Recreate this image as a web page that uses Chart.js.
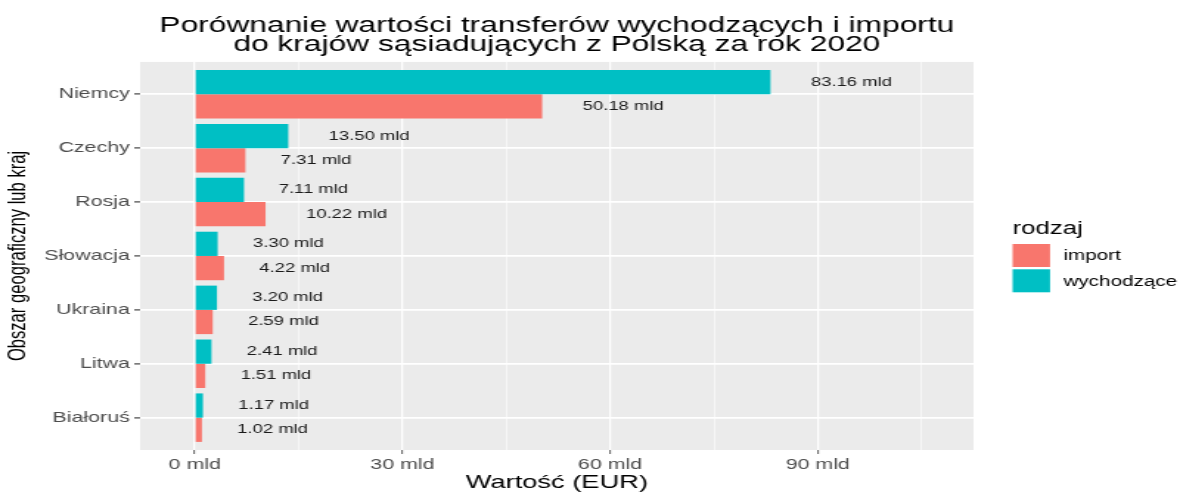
<!DOCTYPE html>
<html lang="pl">
<head>
<meta charset="utf-8">
<title>Porównanie wartości transferów wychodzących i importu</title>
<script src="https://cdn.jsdelivr.net/npm/chart.js@4.4.1/dist/chart.umd.min.js"></script>
<style>
  html, body { margin: 0; padding: 0; background: #ffffff; }
</style>
</head>
<body>
<!-- the reference picture is stretched sideways, so the chart is drawn narrow and shown wide -->
<canvas id="chart-transfers" width="800" height="492" style="width:1180px;height:492px;display:block"></canvas>
<script>
var categories = ["Niemcy", "Czechy", "Rosja", "Słowacja", "Ukraina", "Litwa", "Białoruś"];
var outgoing = [83.16, 13.50, 7.11, 3.30, 3.20, 2.41, 1.17];
var imports = [50.18, 7.31, 10.22, 4.22, 2.59, 1.51, 1.02];
var seriesNames = ["wychodzące", "import"];
var xMajorTicks = [0, 30, 60, 90];
var xMinorTicks = [15, 45, 75, 105];
var xLimits = [-7.9, 112.5];

(function () {
  "use strict";

  var FONT = "'Liberation Sans', Arial, sans-serif";
  var TEAL = "#00BFC4";
  var SALMON = "#F8766D";

  function isMajor(v) {
    return xMajorTicks.indexOf(v) !== -1;
  }

  var panelBackground = {
    id: "panelBackground",
    beforeDraw: function (chart) {
      var a = chart.chartArea;
      var ctx = chart.ctx;
      ctx.save();
      ctx.fillStyle = "#EBEBEB";
      ctx.fillRect(a.left, a.top, a.right - a.left, a.bottom - a.top);
      ctx.restore();
    },
  };

  // geom_text(hjust = -0.5) style labels next to each bar
  var valueLabels = {
    id: "valueLabels",
    afterDatasetsDraw: function (chart) {
      var ctx = chart.ctx;
      ctx.save();
      ctx.font = "12.5px " + FONT;
      ctx.fillStyle = "#1a1a1a";
      ctx.textAlign = "left";
      ctx.textBaseline = "middle";
      chart.data.datasets.forEach(function (ds, di) {
        chart.getDatasetMeta(di).data.forEach(function (bar, i) {
          var txt = ds.data[i].toFixed(2) + " mld";
          var w = ctx.measureText(txt).width;
          ctx.fillText(txt, bar.x + w * 0.5, bar.y);
        });
      });
      ctx.restore();
    },
  };

  var sideLegend = {
    id: "sideLegend",
    afterDraw: function (chart) {
      var ctx = chart.ctx;
      var x = 686.5;
      ctx.save();
      ctx.fillStyle = "#000";
      ctx.textAlign = "left";
      ctx.textBaseline = "middle";
      ctx.font = "17.5px " + FONT;
      ctx.fillText("rodzaj", x, 229);
      ctx.font = "14px " + FONT;
      var items = chart.data.datasets.slice().reverse();
      items.forEach(function (ds, i) {
        var top = 244 + i * 25.3;
        ctx.fillStyle = ds.backgroundColor;
        ctx.fillRect(x, top, 25.4, 23);
        ctx.fillStyle = "#000";
        ctx.fillText(ds.label, 721, top + 12.6);
      });
      ctx.restore();
    },
  };

  new Chart(document.getElementById("chart-transfers").getContext("2d"), {
    type: "bar",
    data: {
      labels: categories,
      datasets: [
        {
          label: seriesNames[0],
          data: outgoing,
          backgroundColor: TEAL,
          borderWidth: 0,
          barPercentage: 1,
          categoryPercentage: 0.9,
        },
        {
          label: seriesNames[1],
          data: imports,
          backgroundColor: SALMON,
          borderWidth: 0,
          barPercentage: 1,
          categoryPercentage: 0.9,
        },
      ],
    },
    options: {
      indexAxis: "y",
      responsive: false,
      animation: false,
      layout: { padding: { left: 0, right: 140, top: 0, bottom: 0 } },
      plugins: {
        legend: { display: false },
        tooltip: { enabled: false },
        title: {
          display: true,
          fullSize: false,
          text: [
            "Porównanie wartości transferów wychodzących i importu",
            "do krajów sąsiadujących z Polską za rok 2020",
          ],
          color: "#000",
          font: { family: FONT, size: 21.5, weight: "normal", lineHeight: 0.88 },
          padding: { top: 16.5, bottom: 7.6 },
        },
      },
      scales: {
        x: {
          type: "linear",
          min: xLimits[0],
          max: xLimits[1],
          afterBuildTicks: function (scale) {
            scale.ticks = xMajorTicks.concat(xMinorTicks)
              .sort(function (a, b) { return a - b; })
              .map(function (v) { return { value: v }; });
          },
          afterFit: function (scale) { scale.height = 42; },
          border: { display: false },
          grid: {
            color: "#ffffff",
            lineWidth: function (c) { return c.tick && isMajor(c.tick.value) ? 1.25 : 0.6; },
            tickColor: function (c) { return c.tick && isMajor(c.tick.value) ? "#333333" : "rgba(0,0,0,0)"; },
            tickWidth: 0.8,
            tickLength: 4,
          },
          ticks: {
            autoSkip: false,
            maxRotation: 0,
            padding: 2.5,
            color: "#4D4D4D",
            font: { family: FONT, size: 14.5 },
            callback: function (v) { return isMajor(v) ? v + " mld" : ""; },
          },
          title: {
            display: true,
            text: "Wartość (EUR)",
            color: "#000",
            font: { family: FONT, size: 18.5, lineHeight: 1 },
            padding: { top: 0, bottom: 0 },
          },
        },
        y: {
          offset: true,
          afterBuildTicks: function (scale) {
            // ggplot keeps 0.6 of a category free at each end
            scale._startValue = -0.6;
            scale._valueRange = categories.length - 1 + 1.2;
          },
          afterFit: function (scale) { scale.width = 95; },
          border: { display: false },
          grid: {
            offset: false,
            color: "#ffffff",
            lineWidth: 1.8,
            tickColor: "#333333",
            tickWidth: 1.1,
            tickLength: 4,
          },
          ticks: {
            padding: 3,
            color: "#4D4D4D",
            font: { family: FONT, size: 14.5 },
          },
          title: {
            display: true,
            text: "Obszar geograficzny lub kraj",
            color: "#000",
            font: { family: FONT, size: 16.6, lineHeight: 1.2 },
            padding: { top: 2, bottom: 0 },
          },
        },
      },
    },
    plugins: [panelBackground, valueLabels, sideLegend],
  });
})();
</script>
</body>
</html>
